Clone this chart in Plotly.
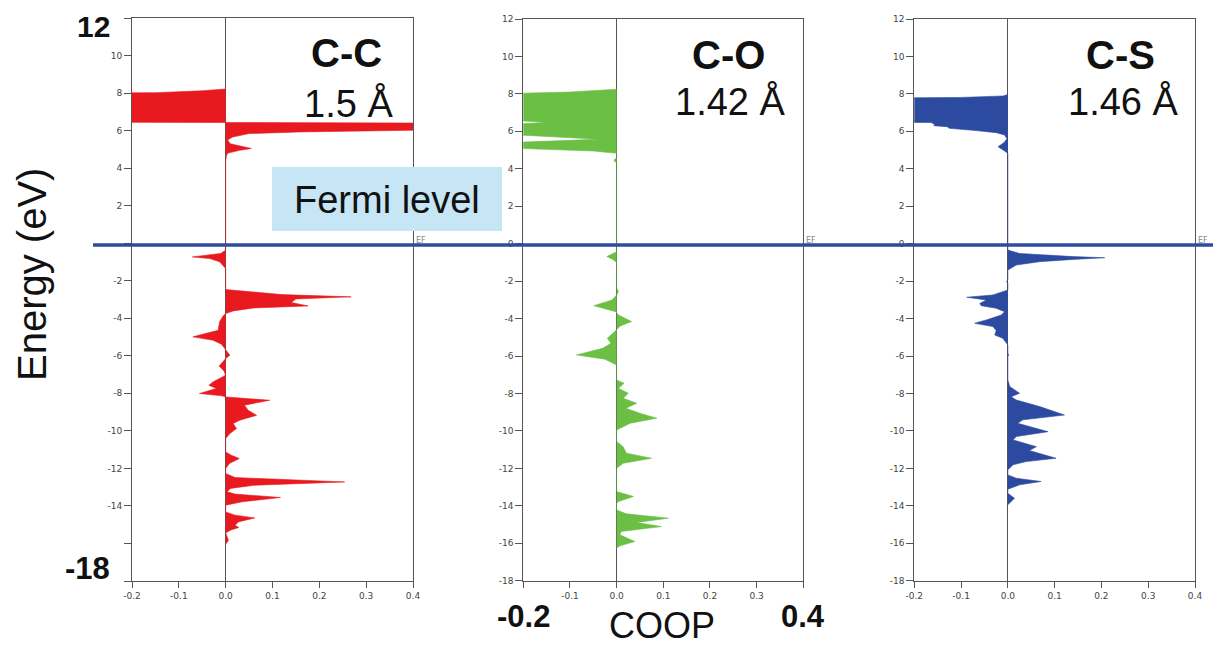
import plotly.graph_objects as go

# ---------------- data (energy in eV, COOP) ----------------
cc_energy = [8.22, 8.12, 8.02, 7.97, 6.47, 6.42, 6.39, 6.02, 5.93, 5.84, 5.66, 5.5, 5.3, 5.1, 5.05, 4.95, 4.8, 4.7, 4.4,
             -0.37, -0.55, -0.73, -0.82, -0.99, -1.35,
             -2.47, -2.59, -2.74, -2.86, -2.97, -3.16, -3.34, -3.45, -3.61, -3.75,
             -3.89, -4.19, -4.64, -4.99, -5.17, -5.38, -5.70, -5.97, -6.15, -6.32, -6.55, -6.80, -7.03,
             -7.39, -7.57, -7.74, -8.01, -8.13, -8.19, -8.37, -8.63, -8.90, -9.17, -9.43, -9.61, -9.88,
             -10.14, -10.41, -11.12, -11.30, -11.47, -11.74, -12.01, -12.27, -12.49, -12.72, -12.90,
             -13.07, -13.25, -13.37, -13.55, -13.78, -13.96, -14.32, -14.49, -14.64, -14.85, -15.03,
             -15.15, -15.29, -15.44, -15.83, -16.04]
cc_coop = [0.0, -0.05, -0.15, -0.6, -0.6, 0.0, 0.6, 0.4, 0.158, 0.05, 0.015, 0.004, 0.01, 0.045, 0.055, 0.03, 0.005, 0.002, 0.0,
           0.0, -0.011, -0.071, -0.034, -0.013, 0.0,
           0.0, 0.058, 0.12, 0.268, 0.15, 0.14, 0.176, 0.06, 0.016, 0.0,
           -0.006, -0.013, -0.016, -0.07, -0.027, -0.009, 0.0, 0.009, 0.0, -0.006, -0.014, -0.004, 0.0,
           -0.027, -0.036, -0.02, -0.056, -0.008, 0.0, 0.094, 0.04, 0.048, 0.066, 0.03, 0.016, 0.023,
           0.009, 0.0, 0.0, 0.012, 0.029, 0.008, 0.0, 0.0, 0.02, 0.254, 0.06,
           0.01, 0.003, 0.02, 0.117, 0.035, 0.0, 0.0, 0.02, 0.062, 0.027, 0.02,
           0.028, 0.01, 0.0, 0.006, 0.0]

co_energy = [8.25, 8.1, 8.04, 8.0, 6.6, 6.56, 6.48, 6.4, 6.36, 5.85, 5.8, 5.58, 5.42, 5.38, 5.12, 5.08, 4.95, 4.83,
             4.6, 4.45, 4.3,
             -0.43, -0.60, -0.69, -0.84, -1.01,
             -2.38, -2.56, -2.74, -3.01, -3.31, -3.45, -3.63, -3.81, -4.16, -4.39, -4.61,
             -4.88, -5.05, -5.32, -5.59, -5.94, -6.17, -6.48,
             -7.28, -7.46, -7.72, -7.99, -8.26, -8.52, -8.79, -9.06, -9.32, -9.59, -9.95,
             -10.57, -10.84, -11.19, -11.46, -11.73, -12.0,
             -13.24, -13.5, -13.77, -13.86,
             -14.22, -14.43, -14.66, -14.89, -15.11, -15.37, -15.55, -15.91, -16.14, -16.26]
co_coop = [0.0, -0.1, -0.2, -0.6, -0.6, -0.205, -0.15, -0.205, -0.6, -0.6, -0.205, -0.039, -0.205, -0.6, -0.6, -0.2, -0.05, 0.0,
           0.0, -0.006, 0.0,
           0.0, -0.014, -0.021, -0.008, 0.0,
           0.0, 0.004, 0.0, -0.01, -0.049, -0.028, -0.002, 0.004, 0.032, 0.008, 0.0,
           -0.012, -0.02, -0.012, -0.03, -0.086, -0.025, 0.0,
           0.0, 0.016, 0.004, 0.025, 0.014, 0.043, 0.02, 0.05, 0.086, 0.029, 0.0,
           0.0, 0.014, 0.021, 0.075, 0.014, 0.0,
           0.0, 0.036, 0.004, 0.0,
           0.0, 0.021, 0.111, 0.043, 0.096, 0.01, 0.007, 0.039, 0.007, 0.0]

cs_energy = [7.97, 7.89, 7.81, 7.76, 7.73, 6.54, 6.5, 6.47, 6.38, 6.3, 6.25, 6.16, 6.04, 5.93, 5.81, 5.6, 5.4, 5.18, 5.0, 4.83,
             -0.34, -0.52, -0.69, -0.75, -0.84, -0.96, -1.14, -1.41,
             -1.94, -2.03, -2.12,
             -2.47, -2.74, -2.86, -3.01, -3.19, -3.31, -3.45, -3.63, -3.81, -4.07, -4.25, -4.43, -4.64, -4.88, -5.05, -5.41,
             -5.85, -5.94, -6.03,
             -7.28, -7.63, -7.99, -8.17, -8.35, -8.70, -9.15, -9.41, -9.59, -10.04, -10.30, -10.48, -10.84,
             -11.05, -11.46, -11.64, -11.81, -12.08,
             -12.35, -12.53, -12.7, -12.88, -13.11,
             -13.33, -13.6, -13.83, -13.95]
cs_coop = [0.0, -0.01, -0.1, -0.2, -0.6, -0.6, -0.2, -0.164, -0.157, -0.158, -0.13, -0.125, -0.068, -0.025, -0.007, -0.002, -0.008, -0.021, -0.01, 0.0,
           0.0, 0.025, 0.139, 0.207, 0.139, 0.068, 0.018, 0.0,
           0.0, -0.003, 0.0,
           0.0, -0.032, -0.088, -0.046, -0.06, -0.057, -0.025, -0.007, -0.014, -0.046, -0.071, -0.032, -0.025, -0.028, -0.011, 0.0,
           0.0, 0.002, 0.0,
           0.0, 0.004, 0.025, 0.007, 0.018, 0.068, 0.121, 0.032, 0.021, 0.086, 0.018, 0.011, 0.061,
           0.046, 0.103, 0.039, 0.011, 0.0,
           0.0, 0.018, 0.071, 0.025, 0.0,
           0.0, 0.014, 0.004, 0.0]

bond_names = ["C-C", "C-O", "C-S"]
bond_lengths = ["1.5 Å", "1.42 Å", "1.46 Å"]
colors = ["#e8191f", "#6cbf45", "#2c4a9f"]

x_tickvals = [-0.2, -0.1, 0.0, 0.1, 0.2, 0.3, 0.4]
y_tickvals = list(range(-18, 13, 2))

W, H = 1213, 645
# panel frames in pixels: (left, right, top, bottom)
frames = [(132, 413, 18, 581), (523.3, 803.3, 19, 580.7), (914.3, 1195, 19, 580.7)]

fig = go.Figure()
series = [(cc_energy, cc_coop), (co_energy, co_coop), (cs_energy, cs_coop)]
for i, (en, cp) in enumerate(series):
    sfx = "" if i == 0 else str(i + 1)
    fig.add_trace(go.Scatter(
        x=cp, y=en, mode="lines", fill="tozerox",
        line=dict(color=colors[i], width=0.6), fillcolor=colors[i],
        xaxis="x" + sfx, yaxis="y" + sfx, showlegend=False, hoverinfo="skip"))

axis_common = dict(showline=True, mirror=True, linecolor="#555555", linewidth=1,
                   ticks="outside", tickcolor="#555555", showgrid=False, automargin=False,
                   tickfont=dict(family="DejaVu Sans", size=9, color="#444444"))

for i, (l, r, t, b) in enumerate(frames):
    sfx = "" if i == 0 else str(i + 1)
    if i == 0:
        ylab = [v for v in y_tickvals if v not in (12, -18, -16, 0)]
        xlab = x_tickvals
    elif i == 1:
        ylab = y_tickvals
        xlab = [-0.1, 0.0, 0.1, 0.2, 0.3]
    else:
        ylab = y_tickvals
        xlab = x_tickvals
    yunl = [v for v in y_tickvals if v not in ylab]
    xunl = [v for v in x_tickvals if v not in xlab]
    fig.layout["xaxis" + sfx] = dict(
        axis_common, domain=[l / W, r / W], range=[-0.2, 0.4],
        tickvals=xlab, ticktext=[f"{v:.1f}" for v in xlab], ticklen=6,
        minor=dict(tickvals=xunl, ticks="outside", ticklen=6, tickcolor="#555555", showgrid=False),
        zeroline=True, zerolinecolor="#555555", zerolinewidth=1,
        anchor="y" + sfx)
    fig.layout["yaxis" + sfx] = dict(
        axis_common, domain=[1 - b / H, 1 - t / H], range=[-18, 12],
        tickvals=ylab, ticktext=[str(v) for v in ylab], ticklen=7,
        minor=dict(tickvals=yunl, ticks="outside", ticklen=7, tickcolor="#555555", showgrid=False),
        zeroline=False, anchor="x" + sfx)

shapes = [
    # Fermi level label box
    dict(type="rect", xref="paper", yref="paper", x0=272 / W, x1=502 / W,
         y0=1 - 231 / H, y1=1 - 167 / H, fillcolor="#c6e5f5", line=dict(width=0), layer="above"),
    # Fermi level line
    dict(type="line", xref="paper", yref="paper", x0=93 / W, x1=1.0,
         y0=1 - 245 / H, y1=1 - 245 / H, line=dict(color="#2e4b9f", width=3.5), layer="above"),
]

ann = []
def A(text, x, y, size, bold=False, angle=0, color="#111111", family="Liberation Sans"):
    if bold:
        text = "<b>" + text + "</b>"
    ann.append(dict(text=text, x=x / W, y=1 - y / H, xref="paper", yref="paper",
                    showarrow=False, xanchor="center", yanchor="middle", textangle=angle,
                    font=dict(family=family, size=size, color=color)))

A("12", 93, 27, 30, bold=True)
A("-18", 87, 568, 31, bold=True)
A("Energy (eV)", 32, 275, 40, angle=-90)
A("Fermi level", 387, 200, 38)
centers = [(347, 53, 348, 103), (728, 55, 730, 102), (1120, 55, 1123, 102)]
for i, (bx, by, lx, ly) in enumerate(centers):
    A(bond_names[i], bx, by, 40, bold=True)
    A(bond_lengths[i], lx, ly, 38)
A("-0.2", 523, 616, 31, bold=True)
A("0.4", 803, 616, 31, bold=True)
A("COOP", 662, 625, 36)
for (l, r, t, b) in frames:
    A("EF", r + 8, 240, 8, color="#888888", family="DejaVu Sans")

fig.update_layout(width=W, height=H, autosize=False, margin=dict(l=0, r=0, t=0, b=0),
                  paper_bgcolor="white", plot_bgcolor="white", shapes=shapes, annotations=ann)

fig.write_html("out.html", config={"displayModeBar": False, "staticPlot": True},
               post_script="document.body.style.margin='0px';document.body.style.overflow='hidden';")
